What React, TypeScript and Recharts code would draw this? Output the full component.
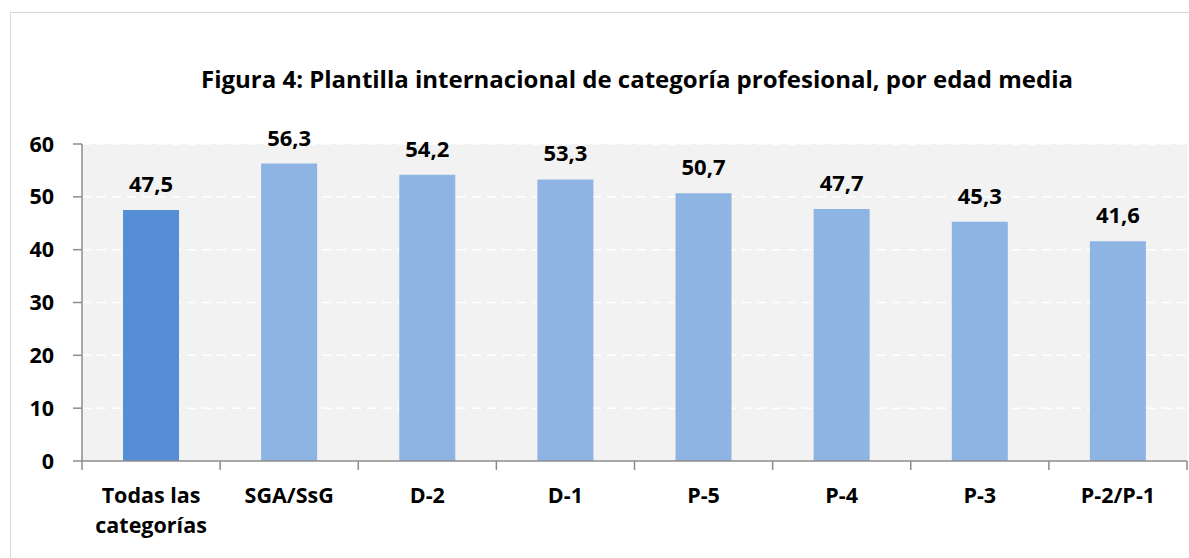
import { BarChart, Bar, XAxis, YAxis, CartesianGrid, Cell, LabelList } from 'recharts'

// Figura 4: edad media por categoría profesional

const categorias = ["Todas las categorías", "SGA/SsG", "D-2", "D-1", "P-5", "P-4", "P-3", "P-2/P-1"]
const edadMedia = [47.5, 56.3, 54.2, 53.3, 50.7, 47.7, 45.3, 41.6]
const yTicks = [0, 10, 20, 30, 40, 50, 60]

const data = categorias.map((name, i) => ({ name, edad: edadMedia[i] }))

const W = 1189
const H = 558
const MARGIN = { top: 144, right: 2, left: 0, bottom: 5 }
const Y_AXIS_W = 82
const X_AXIS_H = 92
const PLOT_W = W - MARGIN.left - MARGIN.right - Y_AXIS_W
const BAND = PLOT_W / categorias.length

const FONT = "'Open Sans', 'Noto Sans', sans-serif"
const AXIS_GRAY = "#8c8c8c"

const fmt = (v: number) => v.toFixed(1).replace('.', ',')

function wrap(text: string, maxChars = 10) {
  const lines: string[] = []
  let cur = ""
  for (const w of text.split(" ")) {
    const next = cur ? cur + " " + w : w
    if (next.length > maxChars && cur) {
      lines.push(cur)
      cur = w
    } else {
      cur = next
    }
  }
  if (cur) lines.push(cur)
  return lines
}

function CategoryTick(props: any) {
  const { x, y, payload, index } = props
  const lines = wrap(String(payload.value))
  const left = x - BAND / 2
  const right = x + BAND / 2
  return (
    <g>
      <line x1={left} y1={y} x2={left} y2={y + 9} stroke={AXIS_GRAY} strokeWidth={1.5} />
      {index === categorias.length - 1 && (
        <line x1={right} y1={y} x2={right} y2={y + 9} stroke={AXIS_GRAY} strokeWidth={1.5} />
      )}
      <text x={x} y={y + 42} textAnchor="middle" fontFamily={FONT} fontWeight={700} fontSize={21.5} fill="#000">
        {lines.map((l, i) => (
          <tspan key={i} x={x} dy={i === 0 ? 0 : 30}>{l}</tspan>
        ))}
      </text>
    </g>
  )
}

export default function App() {
  return (
    <div style={{ position: "fixed", left: 0, top: 0, width: W, height: H, overflow: "hidden", background: "#fff" }}>
      <div style={{ position: "absolute", left: 10, top: 12, width: 1300, height: 700, border: "1.5px solid #d9d9d9", boxSizing: "border-box" }} />
      <svg width={W} height={H} style={{ position: "absolute", left: 0, top: 0 }}>
        <text x={637} y={88} textAnchor="middle" fontFamily={FONT} fontWeight={700} fontSize={24} fill="#000">
          Figura 4: Plantilla internacional de categoría profesional, por edad media
        </text>
      </svg>
      <div style={{ position: "absolute", left: 0, top: 0 }}>
        <BarChart width={W} height={H} data={data} margin={MARGIN} barCategoryGap="29.7%">
          <CartesianGrid vertical={false} stroke="#ffffff" strokeWidth={1.5} strokeDasharray="9 6" fill="#f2f2f2" />
          <XAxis
            dataKey="name"
            interval={0}
            height={X_AXIS_H}
            tickSize={0}
            tickMargin={0}
            tickLine={false}
            stroke={AXIS_GRAY}
            strokeWidth={1.5}
            tick={<CategoryTick />}
          />
          <YAxis
            width={Y_AXIS_W}
            domain={[0, 60]}
            ticks={yTicks}
            interval={0}
            tickSize={9}
            tickMargin={19}
            stroke={AXIS_GRAY}
            strokeWidth={1.5}
            tick={{ fill: "#000", fontSize: 21.5, fontWeight: 700, fontFamily: FONT }}
          />
          <Bar dataKey="edad" isAnimationActive={false}>
            {data.map((_, i) => (
              <Cell key={i} fill={i === 0 ? "#558ed5" : "#8eb4e3"} />
            ))}
            <LabelList
              dataKey="edad"
              position="top"
              offset={18}
              formatter={(v: any) => fmt(Number(v))}
              style={{ fill: "#000", fontSize: 22, fontWeight: 700, fontFamily: FONT }}
            />
          </Bar>
        </BarChart>
      </div>
    </div>
  )
}
